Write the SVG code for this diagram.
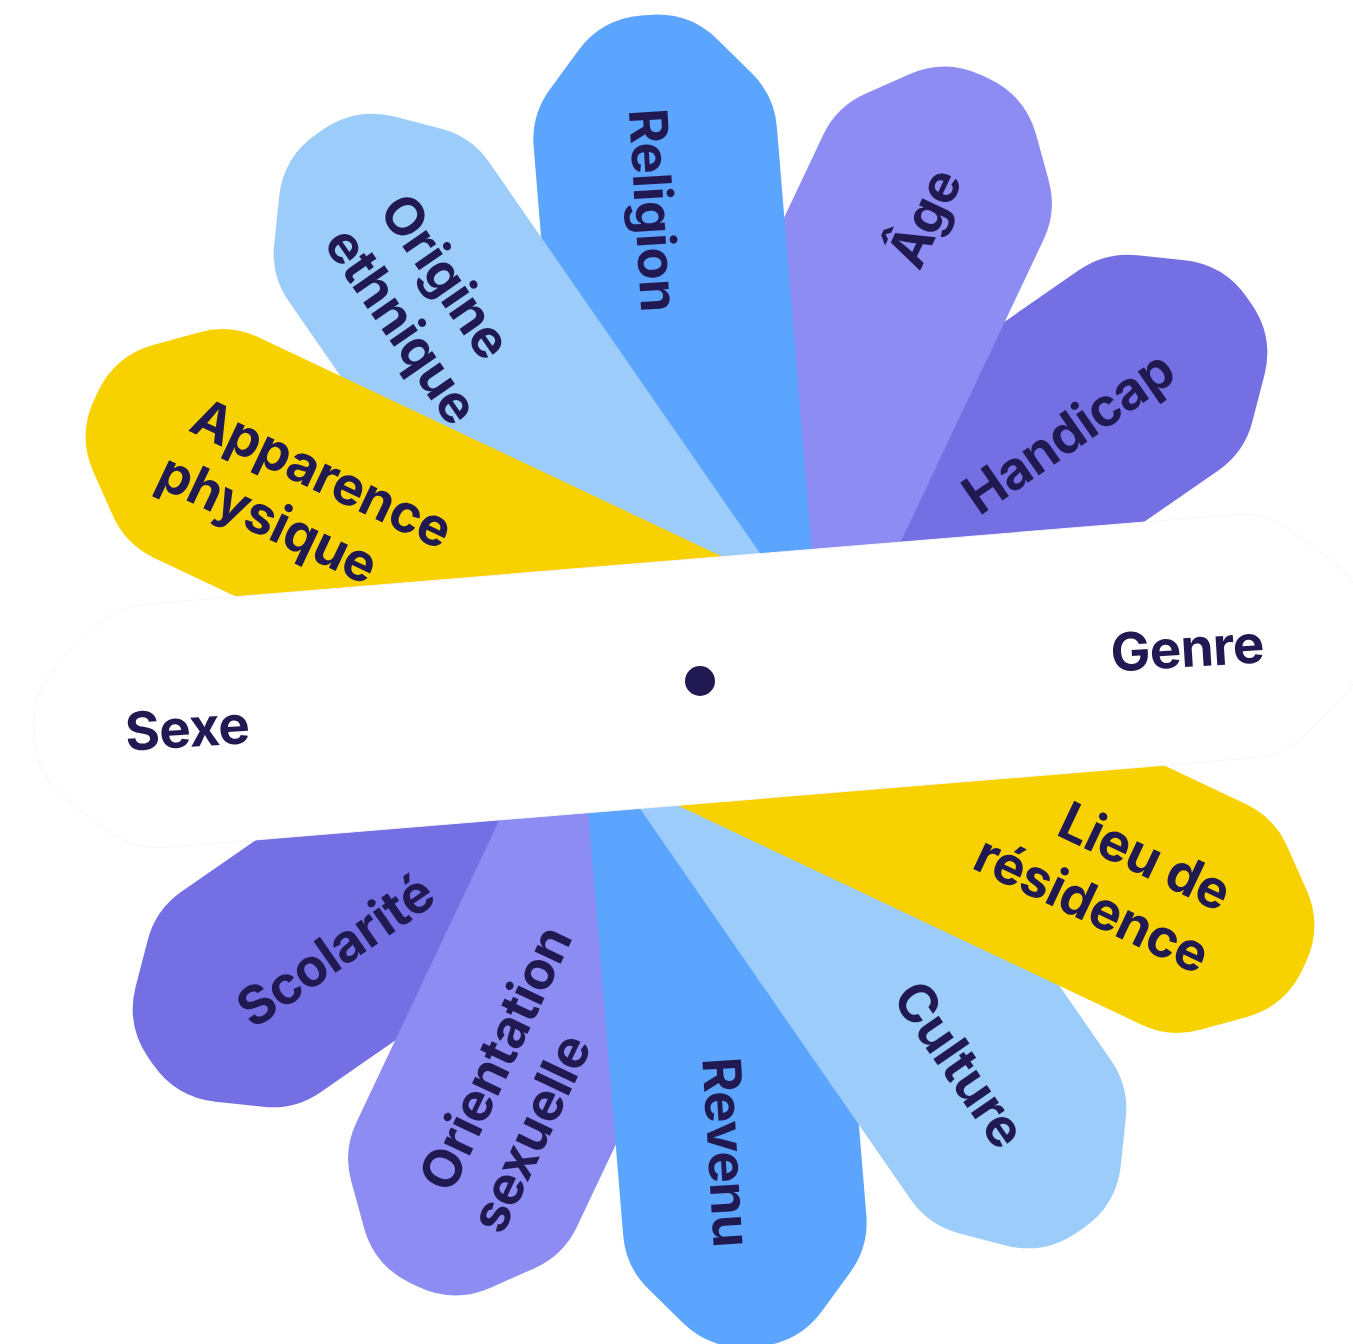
<svg xmlns="http://www.w3.org/2000/svg" xmlns:xlink="http://www.w3.org/1999/xlink" width="1353" height="1344" viewBox="0 0 1353 1344">
<style>
.lbl{font-family:Inter,"Noto Sans","Liberation Sans",sans-serif;font-weight:700;font-size:53px;fill:#211A52;letter-spacing:-0.6px;text-anchor:middle}
.yel{fill:#F8D200}.lblue{fill:#9CCCFA}.blue{fill:#5BA5FE}.lav{fill:#8C8CF3}.pur{fill:#7470E3}
</style>
<defs>
<path id="petal" d="M-122,0 L-122,-546 Q-122,-578 -101,-602 L-70,-638 Q-44,-668 -4,-668 L4,-668 Q44,-668 70,-638 L101,-602 Q122,-578 122,-546 L122,0 Z"/>
</defs>
<rect width="1353" height="1344" fill="#ffffff"/>
<g id="handicap"><use xlink:href="#petal" class="pur" transform="translate(700 681) rotate(55.3)"/><text class="lbl" transform="translate(1068 432) rotate(-34.7)" y="19">Handicap</text></g>
<g id="age"><use xlink:href="#petal" class="lav" transform="translate(700 681) rotate(25.3)"/><text class="lbl" transform="translate(924 218) rotate(-64.7)" y="19">Âge</text></g>
<g id="religion"><use xlink:href="#petal" class="blue" transform="translate(700 681) rotate(-4.7)"/><text class="lbl" transform="translate(654 210) rotate(86.5)" y="19">Religion</text></g>
<g id="origine"><use xlink:href="#petal" class="lblue" transform="translate(700 681) rotate(-34.7)"/><text class="lbl" transform="translate(446 276) rotate(55.3)" y="19">Origine</text><text class="lbl" transform="translate(402 325) rotate(55.3)" y="19">ethnique</text></g>
<g id="apparence"><use xlink:href="#petal" class="yel" transform="translate(700 681) rotate(-64.7)"/><text class="lbl" transform="translate(322 473) rotate(25.3)" y="19">Apparence</text><text class="lbl" transform="translate(268 518) rotate(25.3)" y="19">physique</text></g>
<g id="scolarite"><use xlink:href="#petal" class="pur" transform="translate(700 681) rotate(235.3)"/><text class="lbl" transform="translate(335 950) rotate(-34.7)" y="19">Scolarité</text></g>
<g id="orientation"><use xlink:href="#petal" class="lav" transform="translate(700 681) rotate(205.3)"/><text class="lbl" transform="translate(495 1058) rotate(-64.7)" y="19">Orientation</text><text class="lbl" transform="translate(530 1133) rotate(-64.7)" y="19">sexuelle</text></g>
<g id="revenu"><use xlink:href="#petal" class="blue" transform="translate(700 681) rotate(175.3)"/><text class="lbl" transform="translate(727 1152) rotate(86.5)" y="19">Revenu</text></g>
<g id="culture"><use xlink:href="#petal" class="lblue" transform="translate(700 681) rotate(145.3)"/><text class="lbl" transform="translate(960 1064) rotate(55.3)" y="19">Culture</text></g>
<g id="lieu"><use xlink:href="#petal" class="yel" transform="translate(700 681) rotate(115.3)"/><text class="lbl" transform="translate(1145 856) rotate(25.3)" y="19">Lieu de</text><text class="lbl" transform="translate(1092 904) rotate(25.3)" y="19">résidence</text></g>
<g id="band">
<path d="M-122,-546 Q-122,-578 -101,-602 L-70,-638 Q-44,-668 -4,-668 L4,-668 Q44,-668 70,-638 L101,-602 Q122,-578 122,-546 L122,546 Q122,578 101,602 L70,638 Q44,668 4,668 L-4,668 Q-44,668 -70,638 L-101,602 Q-122,578 -122,546 Z" fill="#ffffff" stroke="#f7f7f9" stroke-width="1" transform="translate(700 681) rotate(85.3)"/>
<text class="lbl" transform="translate(1187 648) rotate(-3.5)" y="19">Genre</text>
<text class="lbl" transform="translate(187 728) rotate(-3.5)" y="19">Sexe</text>
</g>
<g id="center"><circle cx="700" cy="681" r="15" fill="#211A52"/></g>
</svg>
